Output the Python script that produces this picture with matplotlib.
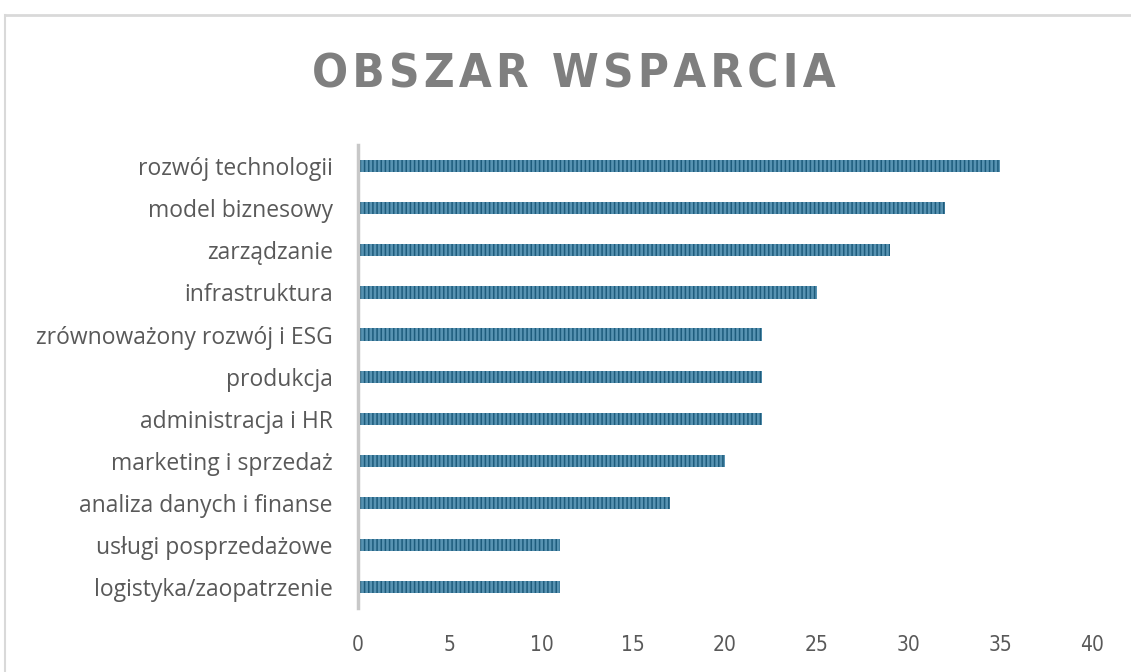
import matplotlib
matplotlib.use("Agg")
import matplotlib.pyplot as plt
from matplotlib.lines import Line2D

categories = [
    "logistyka/zaopatrzenie",
    "usługi posprzedażowe",
    "analiza danych i finanse",
    "marketing i sprzedaż",
    "administracja i HR",
    "produkcja",
    "zrównoważony rozwój i ESG",
    "infrastruktura",
    "zarządzanie",
    "model biznesowy",
    "rozwój technologii",
]
values = [11, 11, 17, 20, 22, 22, 22, 25, 29, 32, 35]
xticks = [0, 5, 10, 15, 20, 25, 30, 35, 40]
title = "OBSZAR WSPARCIA"

plt.rcParams["hatch.linewidth"] = 1.1

fig = plt.figure(figsize=(11.31, 6.72), dpi=100)
ax = fig.add_axes([0.3165, 0.095, 0.649, 0.689])

ax.barh(range(len(categories)), values, height=0.29, color="#5893b2",
        edgecolor="#1e5c7c", hatch="||||", linewidth=0)

ax.set_xlim(0, 40)
ax.set_ylim(-0.5, len(categories) - 0.5)
ax.set_xticks(xticks)
ax.set_yticks(range(len(categories)))
ax.set_yticklabels(categories, fontfamily="Open Sans", fontsize=16.5, color="#595959")
ax.tick_params(axis="y", length=0, pad=18)
ax.tick_params(axis="x", length=0, pad=19, labelsize=15, labelcolor="#595959")
for lab in ax.get_xticklabels():
    lab.set_fontfamily("DejaVu Sans")
    lab.set_fontstretch("condensed")

for s in ["top", "right", "bottom"]:
    ax.spines[s].set_visible(False)
ax.spines["left"].set_color("#c8c8c8")
ax.spines["left"].set_linewidth(2.5)

# title, slightly letter-spaced with hair spaces
fig.text(0.507, 0.888, "\u200a".join(title), ha="center", va="center",
         fontsize=34, fontweight="bold", fontstretch="condensed", color="#7f7f7f",
         fontfamily="DejaVu Sans")

# chart border (top and left visible)
fig.add_artist(Line2D([5 / 1131, 1], [1 - 15 / 672, 1 - 15 / 672],
                      transform=fig.transFigure, color="#d9d9d9", lw=2))
fig.add_artist(Line2D([5 / 1131, 5 / 1131], [0, 1 - 15 / 672],
                      transform=fig.transFigure, color="#d9d9d9", lw=1.5))

fig.savefig("out.png", dpi=100)
